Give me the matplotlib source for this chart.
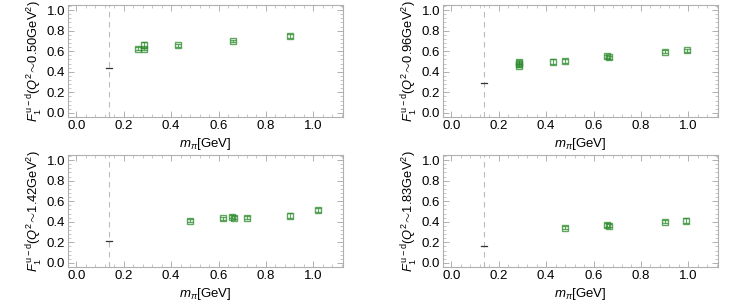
import matplotlib
matplotlib.use("Agg")
import matplotlib.pyplot as plt
from matplotlib.ticker import MultipleLocator, FormatStrFormatter

# Q^2 ~ 0.50 GeV^2
m1 = [0.26, 0.285, 0.285, 0.43, 0.66, 0.90]
f1 = [0.625, 0.62, 0.665, 0.66, 0.70, 0.75]
e1 = [0.012, 0.012, 0.025, 0.015, 0.012, 0.018]
# Q^2 ~ 0.96 GeV^2
m2 = [0.285, 0.285, 0.285, 0.43, 0.48, 0.655, 0.665, 0.90, 0.995]
f2 = [0.495, 0.475, 0.46, 0.50, 0.505, 0.55, 0.54, 0.595, 0.61]
e2 = [0.02, 0.02, 0.015, 0.025, 0.015, 0.015, 0.015, 0.015, 0.015]
# Q^2 ~ 1.42 GeV^2
m3 = [0.48, 0.62, 0.655, 0.665, 0.72, 0.90, 1.02]
f3 = [0.41, 0.435, 0.45, 0.44, 0.44, 0.46, 0.515]
e3 = [0.015, 0.015, 0.015, 0.015, 0.015, 0.025, 0.015]
# Q^2 ~ 1.83 GeV^2
m4 = [0.48, 0.655, 0.665, 0.90, 0.99]
f4 = [0.34, 0.37, 0.36, 0.40, 0.41]
e4 = [0.015, 0.02, 0.015, 0.015, 0.025]

q2_labels = ["0.50", "0.96", "1.42", "1.83"]
phys_val = [0.44, 0.29, 0.21, 0.16]
m_phys = 0.138

plt.rcParams['font.family'] = ['Liberation Sans', 'DejaVu Sans']
plt.rcParams['mathtext.fontset'] = 'custom'
plt.rcParams['mathtext.rm'] = 'Liberation Sans'
plt.rcParams['mathtext.it'] = 'Liberation Sans:italic'

fig = plt.figure(figsize=(7.47, 3.05), dpi=100)
boxes = [(68, 5, 275, 112), (443, 5, 275, 112), (68, 155, 275, 112), (443, 155, 275, 112)]
datasets = [(m1, f1, e1), (m2, f2, e2), (m3, f3, e3), (m4, f4, e4)]
W, H = 747, 305
frame = '#b0b0b0'
green = '#2e8b2e'

for i in range(4):
    x0, y0, w, h = boxes[i]
    ax = fig.add_axes([x0 / W, 1 - (y0 + h) / H, w / W, h / H])
    m, f, e = datasets[i]
    ax.axvline(m_phys, color='#bbbbbb', lw=0.8, ls=(0, (5, 4)))
    ax.plot([m_phys - 0.012, m_phys + 0.012], [phys_val[i], phys_val[i]], color='#333333', lw=0.9)
    ax.errorbar(m, f, yerr=e, fmt='s', ms=5, mfc='none', mec=green, mew=1.0,
                ecolor=green, elinewidth=0.8, capsize=2, capthick=0.8, alpha=0.75)
    ax.set_xlim(-0.035, 1.125)
    ax.set_ylim(-0.04, 1.05)
    ax.xaxis.set_major_locator(MultipleLocator(0.2))
    ax.xaxis.set_minor_locator(MultipleLocator(0.04))
    ax.yaxis.set_major_locator(MultipleLocator(0.2))
    ax.yaxis.set_minor_locator(MultipleLocator(0.04))
    ax.xaxis.set_major_formatter(FormatStrFormatter('%.1f'))
    ax.yaxis.set_major_formatter(FormatStrFormatter('%.1f'))
    for s in ax.spines.values():
        s.set_color(frame)
        s.set_linewidth(0.8)
    ax.tick_params(which='both', direction='in', top=True, right=True, color=frame,
                   labelsize=9.5, pad=2)
    ax.tick_params(which='major', length=4, width=0.7)
    ax.tick_params(which='minor', length=2, width=0.5)
    ax.set_xlabel(r'$m_\pi$[GeV]', fontsize=9.5, labelpad=3)
    ax.set_ylabel(r'$F_1^{\,\mathrm{u-d}}(Q^2\!\sim\!\mathrm{' + q2_labels[i] + r'GeV}^2)$',
                  fontsize=9.3, labelpad=1)

fig.savefig('out.png', dpi=100)
